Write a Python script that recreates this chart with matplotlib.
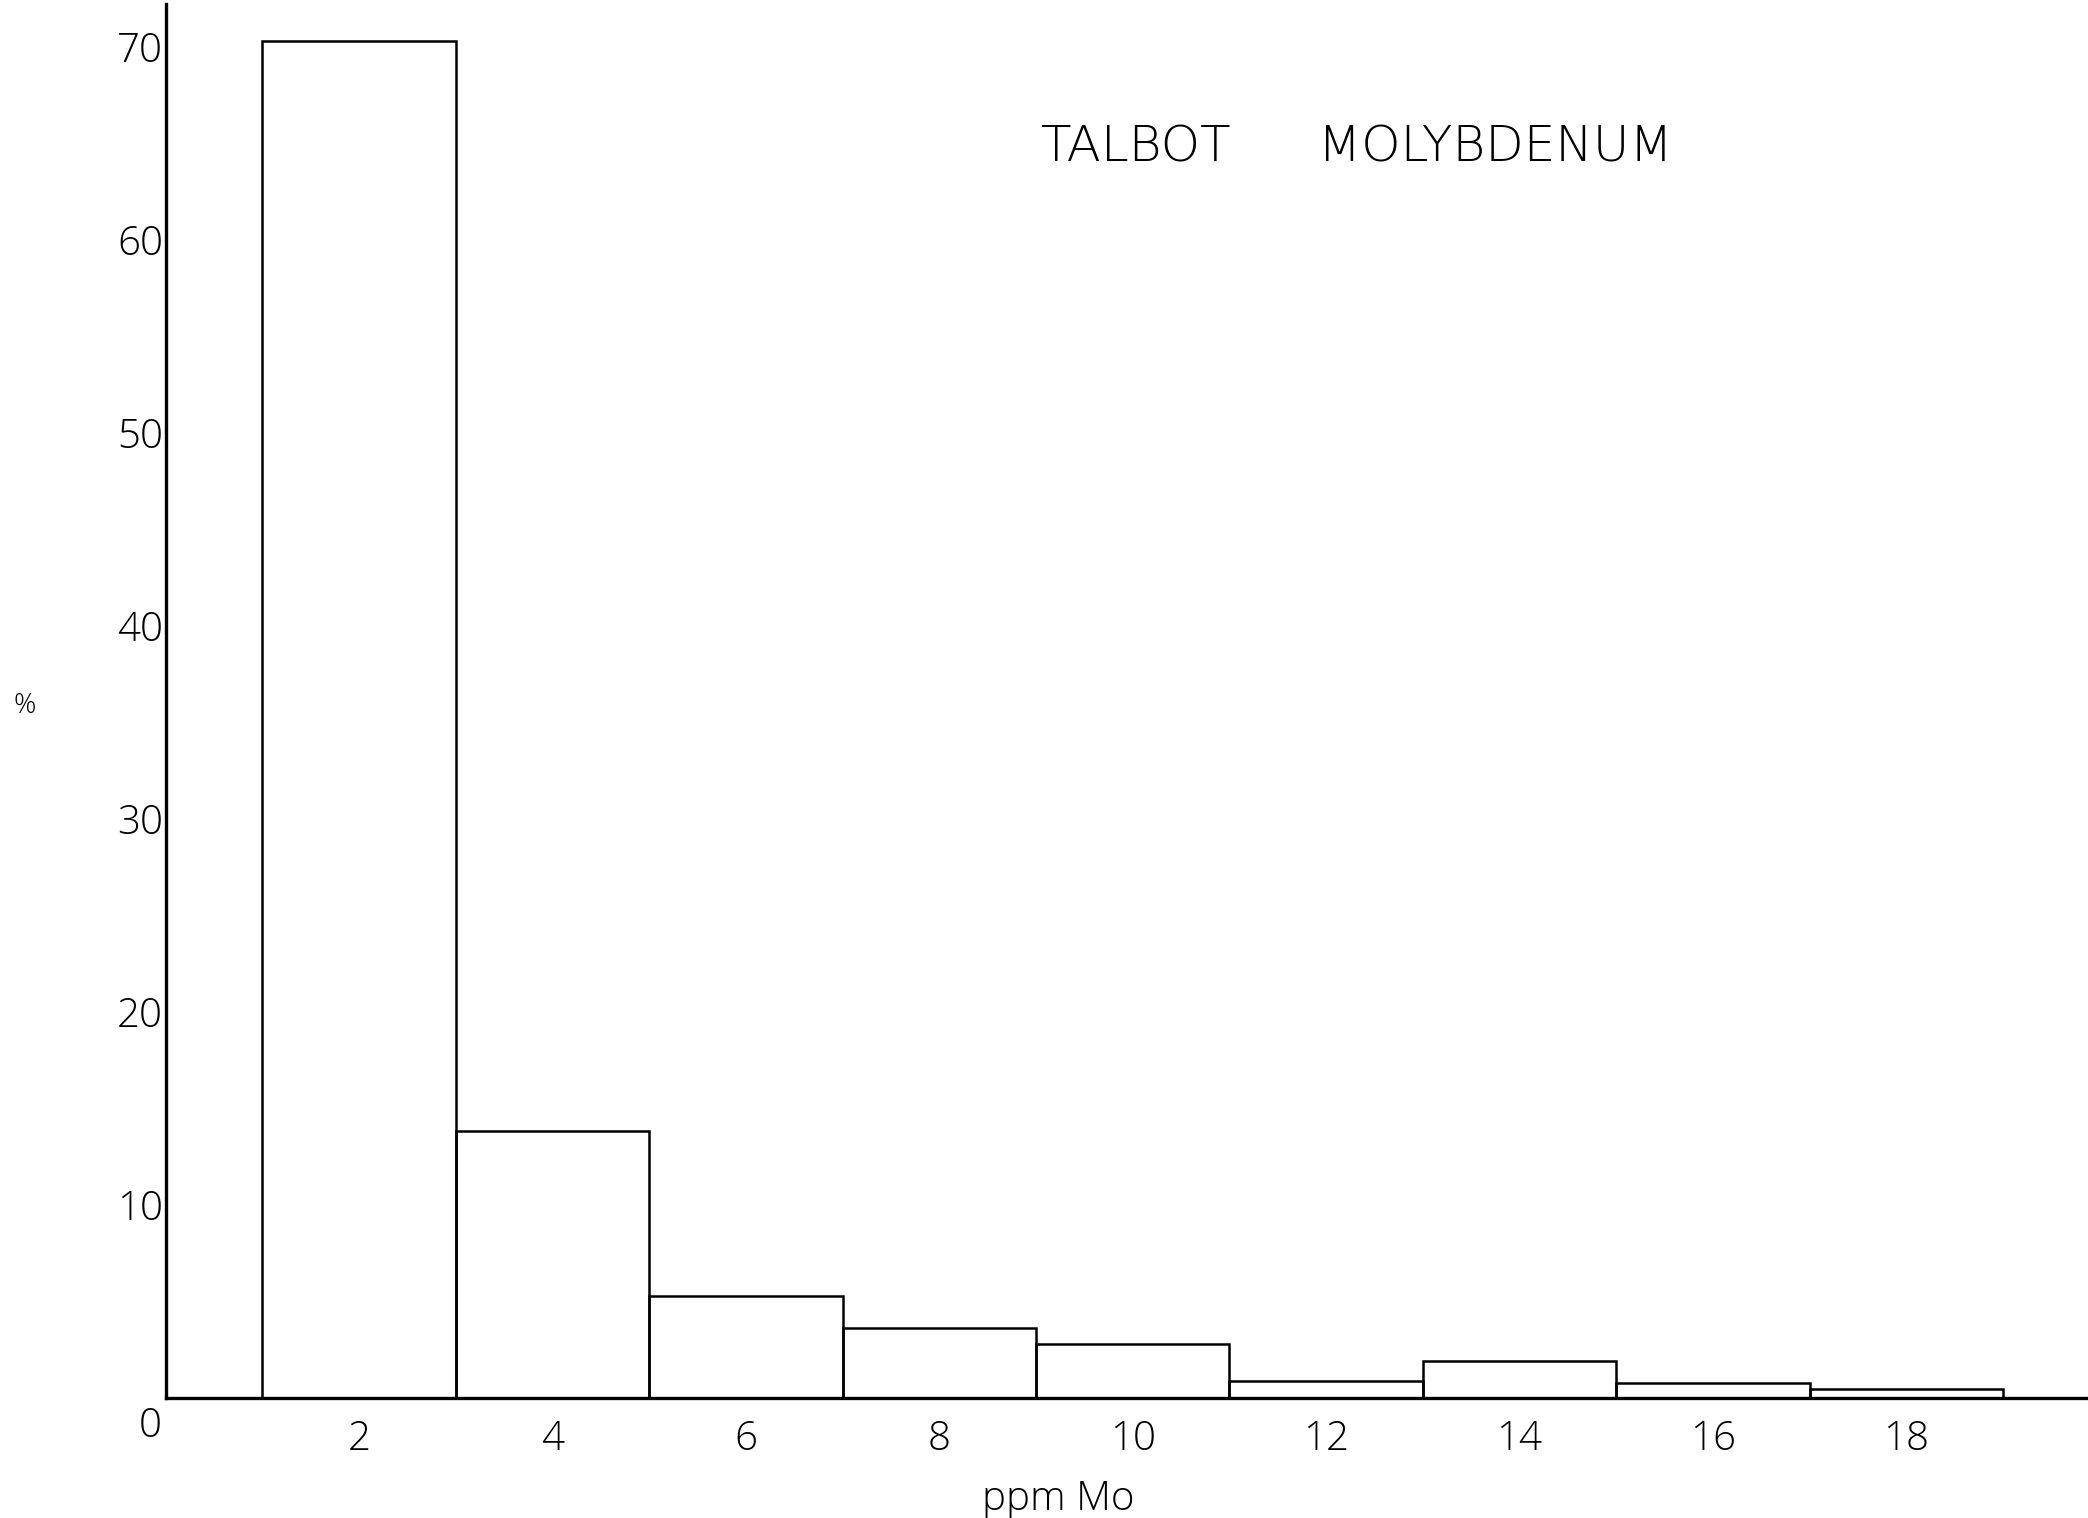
import matplotlib
matplotlib.use("Agg")
import matplotlib.pyplot as plt

# Histograma de Mo (ppm) - Talbot
# classes de 2 ppm, centros em 2, 4, ..., 18
centrosClasses = [2, 4, 6, 8, 10, 12, 14, 16, 18]
percentuais = [70.3, 13.8, 5.3, 3.6, 2.8, 0.9, 1.9, 0.75, 0.45]
larguraClasse = 2

ticksY = [10, 20, 30, 40, 50, 60, 70]
rotulosY = ["10", "20", "30", "40", "50", "60", "70"]
ticksX = [2, 4, 6, 8, 10, 12, 14, 16, 18]
rotulosX = ["2", "4", "6", "8", "10", "12", "14", "16", "18"]

palavrasTitulo = ["TALBOT", "MOLYBDENUM"]
rotuloEixoX = "ppm Mo"
rotuloEixoY = "%"

plt.rcParams['font.family'] = ['Open Sans', 'DejaVu Sans']

fig = plt.figure(figsize=(20.88, 15.18), dpi=100)
ax = fig.add_axes([0.0794, 0.0791, 0.9206, 0.9183])

ax.bar(centrosClasses, percentuais, width=larguraClasse, fill=False,
       edgecolor='black', linewidth=1.8)

ax.set_xlim(0, 19.88)
ax.set_ylim(0, 72.2)

ax.spines['top'].set_visible(False)
ax.spines['right'].set_visible(False)
ax.spines['left'].set_linewidth(2.4)
ax.spines['bottom'].set_linewidth(2.4)

ax.set_yticks(ticksY, rotulosY, fontsize=29, fontweight='light')
ax.set_xticks(ticksX, rotulosX, fontsize=29, fontweight='light')
ax.tick_params(axis='y', length=0, pad=2)
ax.tick_params(axis='x', length=0, pad=15)

# o zero fica sozinho no canto
ax.text(-0.16, -1.5, "0", fontsize=29, fontweight='light',
        ha='center', va='center', clip_on=False)

fig.text(0.507, 0.012, rotuloEixoX, fontsize=29, fontweight='light',
         ha='center', va='center')
fig.text(0.012, 0.535, rotuloEixoY, fontsize=20, fontweight='light',
         ha='center', va='center')

# titulo com letras largas, como no original (DejaVu e mais larga)
fig.text(0.544, 0.903, palavrasTitulo[0], fontsize=36, fontweight='ultralight',
         family=['DejaVu Sans'], ha='center', va='center')
fig.text(0.716, 0.903, palavrasTitulo[1], fontsize=36, fontweight='ultralight',
         family=['DejaVu Sans'], ha='center', va='center')

plt.savefig("out.png", dpi=100)
